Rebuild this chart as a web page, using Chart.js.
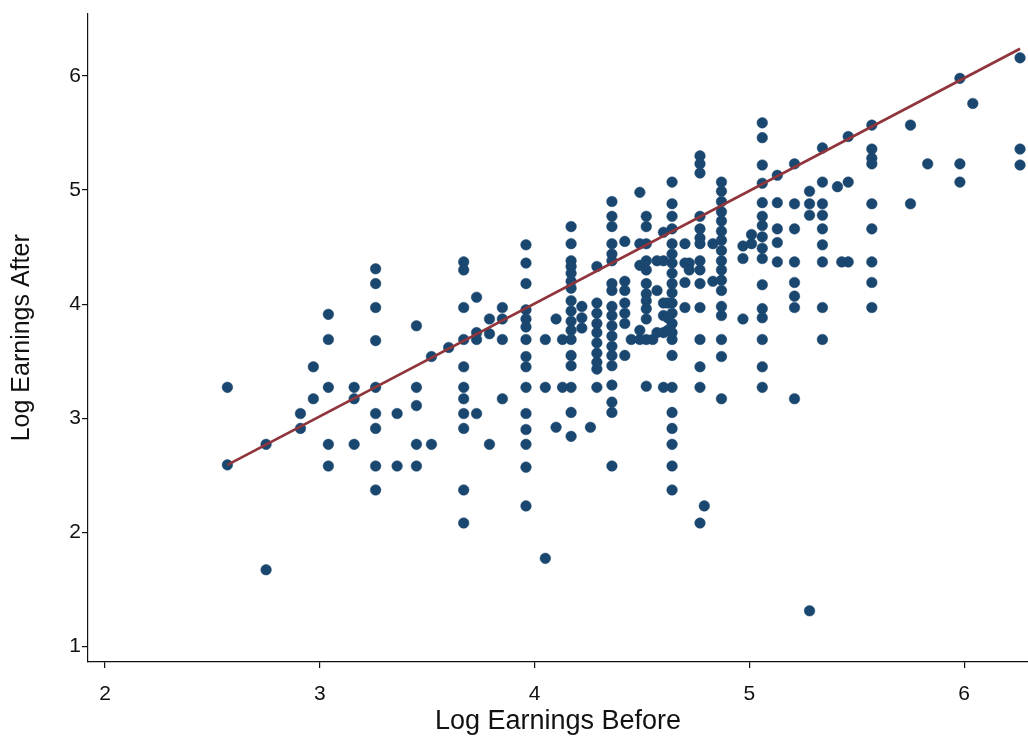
<!DOCTYPE html>
<html>
<head>
<meta charset="utf-8">
<script src="https://cdn.jsdelivr.net/npm/chart.js"></script>
<style>
  html, body { margin: 0; padding: 0; background: #fff; }
  #grafico { display: block; }
</style>
</head>
<body>
<canvas id="grafico" width="1028" height="738"></canvas>
<script>
// ===== Dados: colunas de x e os y em cada coluna
const colX = [
  2.57, 2.75, 2.91, 2.97, 3.04, 3.16, 3.26, 3.36, 3.45, 3.52, 3.60, 3.67, 3.73, 3.79, 3.85,
  3.96, 4.05, 4.10, 4.13, 4.17, 4.22, 4.26, 4.29, 4.36, 4.42, 4.45, 4.49, 4.52, 4.55, 4.57,
  4.60, 4.62, 4.64, 4.70, 4.72, 4.77, 4.79, 4.83, 4.87, 4.97, 5.01, 5.06, 5.13, 5.21, 5.28,
  5.34, 5.41, 5.43, 5.46, 5.57, 5.75, 5.83, 5.98, 6.04, 6.26
];
const colY = [
  [3.27, 2.59],
  [2.77, 1.67],
  [3.04, 2.91],
  [3.45, 3.17],
  [3.91, 3.69, 3.27, 2.77, 2.58],
  [3.27, 3.17, 2.77],
  [4.31, 4.18, 3.97, 3.68, 3.27, 3.04, 2.91, 2.58, 2.37],
  [3.04, 2.58],
  [3.81, 3.27, 3.11, 2.77, 2.58],
  [3.54, 2.77],
  [3.62],
  [4.37, 4.30, 3.97, 3.69, 3.45, 3.27, 3.17, 3.04, 2.91, 2.37, 2.08],
  [4.06, 3.75, 3.69, 3.04],
  [3.87, 3.74, 2.77],
  [3.97, 3.87, 3.69, 3.17],
  [4.52, 4.36, 4.18, 3.95, 3.87, 3.80, 3.69, 3.54, 3.45, 3.27, 3.04, 2.90, 2.77, 2.57, 2.23],
  [3.69, 3.27, 1.77],
  [3.87, 2.92],
  [3.69, 3.27],
  [4.68, 4.53, 4.38, 4.33, 4.27, 4.20, 4.14, 4.03, 3.94, 3.85, 3.77, 3.69, 3.55, 3.46, 3.27, 3.05, 2.84],
  [3.98, 3.88, 3.79],
  [2.92],
  [4.33, 4.01, 3.92, 3.83, 3.75, 3.66, 3.57, 3.49, 3.43, 3.27],
  [4.90, 4.77, 4.68, 4.53, 4.44, 4.38, 4.18, 4.12, 3.98, 3.90, 3.81, 3.72, 3.63, 3.55, 3.46, 3.29, 3.14, 3.05, 2.58],
  [4.55, 4.20, 4.12, 4.01, 3.92, 3.83, 3.55],
  [3.69],
  [4.98, 4.53, 4.34, 3.77, 3.69],
  [4.77, 4.68, 4.53, 4.38, 4.30, 4.18, 4.09, 4.03, 3.96, 3.87, 3.69, 3.28],
  [3.69],
  [4.38, 4.12, 3.75],
  [4.63, 4.38, 4.01, 3.90, 3.75, 3.27],
  [4.01, 3.88, 3.77],
  [5.07, 4.88, 4.77, 4.66, 4.53, 4.44, 4.36, 4.27, 4.18, 4.10, 4.01, 3.92, 3.83, 3.75, 3.69, 3.55, 3.27, 3.05, 2.91, 2.77, 2.58, 2.37],
  [4.53, 4.36, 4.19, 3.97],
  [4.36, 4.30],
  [5.30, 5.23, 5.15, 4.77, 4.66, 4.58, 4.53, 4.38, 4.30, 4.18, 3.97, 3.69, 3.45, 3.27, 2.08],
  [2.23],
  [4.53, 4.20],
  [5.07, 4.99, 4.90, 4.81, 4.73, 4.64, 4.56, 4.47, 4.38, 4.30, 4.21, 4.12, 3.98, 3.90, 3.69, 3.54, 3.17],
  [4.51, 4.40, 3.87],
  [4.61, 4.53],
  [5.59, 5.46, 5.22, 5.06, 4.89, 4.77, 4.69, 4.59, 4.49, 4.40, 4.17, 3.96, 3.88, 3.69, 3.45, 3.27],
  [5.13, 4.89, 4.66, 4.54, 4.37],
  [5.23, 4.88, 4.66, 4.37, 4.19, 4.07, 3.97, 3.17],
  [4.99, 4.88, 4.78, 1.31],
  [5.37, 5.07, 4.88, 4.78, 4.66, 4.52, 4.37, 3.97, 3.69],
  [5.03],
  [4.37],
  [5.47, 5.07, 4.37],
  [5.57, 5.36, 5.28, 5.23, 4.88, 4.66, 4.37, 4.19, 3.97],
  [5.57, 4.88],
  [5.23],
  [5.98, 5.23, 5.07],
  [5.76],
  [6.16, 5.36, 5.22]
];

// reta ajustada (extremos)
const fitX = [2.57, 6.26];
const fitY = [2.59, 6.24];

const xTicks = [2, 3, 4, 5, 6];
const yTicks = [1, 2, 3, 4, 5, 6];

const xTitle = 'Log Earnings Before';
const yTitle = 'Log Earnings After';

// ===== Montagem dos pontos
const pontos = [];
colX.forEach((x, i) => colY[i].forEach(y => pontos.push({ x, y })));
const reta = fitX.map((x, i) => ({ x, y: fitY[i] }));

const fonte = 'Liberation Sans, Arial, sans-serif';
const preto = '#111';

const eixoComum = {
  type: 'linear',
  border: { display: true, color: preto, width: 1.2 },
  grid: { display: true, drawOnChartArea: false, drawTicks: true, tickLength: 6, color: preto, lineWidth: 1.2 },
};

const ctx = document.getElementById('grafico').getContext('2d');
new Chart(ctx, {
  type: 'scatter',
  data: {
    datasets: [
      {
        type: 'line',
        data: reta,
        borderColor: '#90353b',
        borderWidth: 2.8,
        pointRadius: 0,
        fill: false,
        order: 0
      },
      {
        data: pontos,
        backgroundColor: '#1a476f',
        borderColor: '#1a476f',
        borderWidth: 0.5,
        pointRadius: 5.3,
        pointHoverRadius: 5.3,
        order: 1
      }
    ]
  },
  options: {
    responsive: false,
    animation: false,
    layout: { autoPadding: false, padding: { top: 8, right: 0, left: 0, bottom: 0 } },
    plugins: { legend: { display: false }, tooltip: { enabled: false } },
    scales: {
      x: {
        ...eixoComum,
        min: 1.921,
        max: 6.297,
        afterBuildTicks: s => { s.ticks = xTicks.map(v => ({ value: v })); },
        afterFit: s => { s.height = 76; },
        ticks: { color: preto, font: { family: fonte, size: 21 }, padding: 14, maxRotation: 0 },
        title: { display: true, text: xTitle, color: preto, font: { family: fonte, size: 27 }, padding: { top: 0, bottom: 0 } }
      },
      y: {
        ...eixoComum,
        min: 0.861,
        max: 6.548,
        afterBuildTicks: s => { s.ticks = yTicks.map(v => ({ value: v })); },
        afterFit: s => { s.width = 88; },
        ticks: { color: preto, font: { family: fonte, size: 21 }, padding: 1 },
        title: { display: true, text: yTitle, color: preto, font: { family: fonte, size: 25 }, padding: { top: 7, bottom: 0 } }
      }
    }
  }
});
</script>
</body>
</html>
